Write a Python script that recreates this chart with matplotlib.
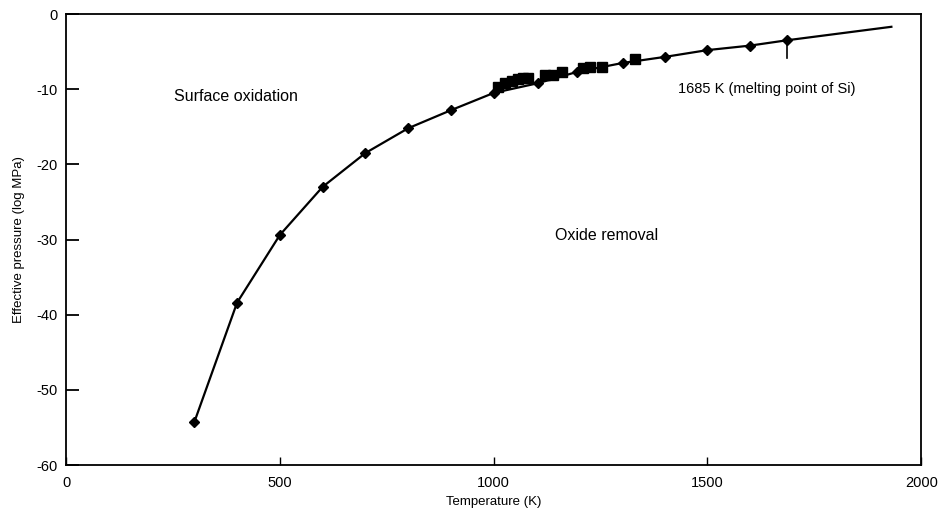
import matplotlib.pyplot as plt

plt.rcParams['font.family'] = ['Liberation Sans', 'DejaVu Sans']
plt.rcParams['axes.unicode_minus'] = False

# Diamonds along the curve (temperature K, log MPa)
temp_d = [300, 400, 500, 600, 700, 800, 900, 1000, 1104, 1195, 1303, 1401, 1500, 1600, 1685]
press_d = [-54.3, -38.4, -29.4, -23.0, -18.5, -15.2, -12.8, -10.5, -9.2, -7.7, -6.5, -5.7, -4.8, -4.2, -3.5]

# Line runs past the last diamond
temp_end = 1930
press_end = -1.7

# Squares (clustered data)
temp_s = [1010, 1027, 1043, 1057, 1069, 1081, 1120, 1139, 1160, 1209, 1226, 1254, 1331]
press_s = [-9.7, -9.2, -8.9, -8.6, -8.5, -8.5, -8.1, -8.1, -7.7, -7.2, -7.0, -7.0, -6.0]

fig = plt.figure(figsize=(9.43, 5.19), dpi=100)
ax = fig.add_axes([0.070, 0.104, 0.907, 0.869])

ax.plot(temp_d + [temp_end], press_d + [press_end], color='black', lw=1.6)
ax.plot(temp_d, press_d, linestyle='none', marker='D', ms=5, color='black')
ax.plot(temp_s, press_s, linestyle='none', marker='s', ms=6.5, color='black')

# melting point marker
ax.plot([1685, 1685], [-3.5, -5.8], color='black', lw=1.2)
ax.text(1430, -10.0, '1685 K (melting point of Si)', fontsize=10.5, va='center', ha='left')
ax.text(253, -11.0, 'Surface oxidation', fontsize=11.5, va='center', ha='left')
ax.text(1144, -29.5, 'Oxide removal', fontsize=11.5, va='center', ha='left')

ax.set_xlim(0, 2000)
ax.set_ylim(-60, 0)
ax.set_xticks([0, 500, 1000, 1500, 2000])
ax.set_yticks([-60, -50, -40, -30, -20, -10, 0])
ax.tick_params(axis='y', direction='in', length=9, width=1.3, labelsize=10.5, pad=6)
ax.tick_params(axis='x', direction='in', length=6, width=1.0, labelsize=10.5, pad=8)
for s in ax.spines.values():
    s.set_linewidth(1.3)

ax.set_xlabel('Temperature (K)', fontsize=9.5)
ax.set_ylabel('Effective pressure (log MPa)', fontsize=9.5, labelpad=8)

fig.savefig('out.png', dpi=100)
